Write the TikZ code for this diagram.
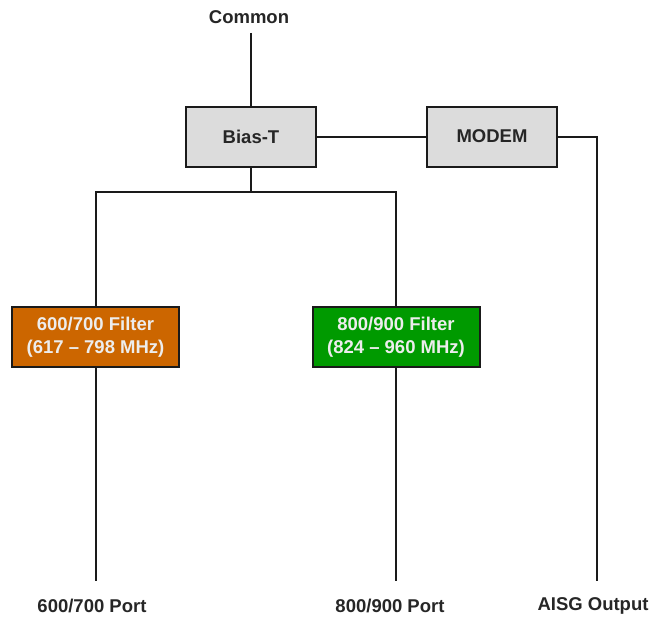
\documentclass[tikz,border=0pt]{standalone}
\usepackage{fontspec}
\setmainfont{Liberation Sans}
\definecolor{boxgrey}{HTML}{DCDCDC}
\definecolor{filtorange}{HTML}{CC6600}
\definecolor{filtgreen}{HTML}{009A00}
\definecolor{linec}{HTML}{1A1A1A}
\begin{document}
\begin{tikzpicture}[x=1pt,y=-1pt,
  every node/.style={font=\fontsize{18.5}{23}\selectfont\bfseries, inner sep=0pt},
  blk/.style={draw=linec, line width=2pt, minimum width=#1, minimum height=60pt, align=center},
  greyblk/.style={blk=130pt, fill=boxgrey, text=black!85},
  filt/.style={blk=167pt, text=white!93!black},
  lbl/.style={text=black!85},
  wire/.style={draw=linec, line width=2pt}]
\useasboundingbox (0,0) rectangle (655,618);
\node[lbl] (common) at (249,17) {Common};
\node[greyblk] (biast) at (251,136.5) {Bias-T};
\node[greyblk] (modem) at (492,136.5) {MODEM};
\node[filt, fill=filtorange] (f67) at (95.5,337) {600/700 Filter\\(617 -- 798 MHz)};
\node[filt, fill=filtgreen] (f89) at (396,337) {800/900 Filter\\(824 -- 960 MHz)};
\node[lbl] (p67) at (92,606) {600/700 Port};
\node[lbl] (p89) at (390,606) {800/900 Port};
\node[lbl] (aisg) at (593,606) {AISG Output};
\coordinate (split) at (251,192);
\coordinate (e67) at (95.5,581);
\coordinate (e89) at (396,581);
\coordinate (eaisg) at (597,581);
\coordinate (ctop) at (251,33);
\draw[wire] (ctop) -- (biast.north);
\draw[wire] (biast.east) -- (modem.west);
\draw[wire] (modem.east) -| (eaisg);
\draw[wire] (biast.south) -- (split);
\draw[wire] (f67.north) |- (split) -| (f89.north);
\draw[wire] (f67.south) -- (e67);
\draw[wire] (f89.south) -- (e89);
\end{tikzpicture}
\end{document}
